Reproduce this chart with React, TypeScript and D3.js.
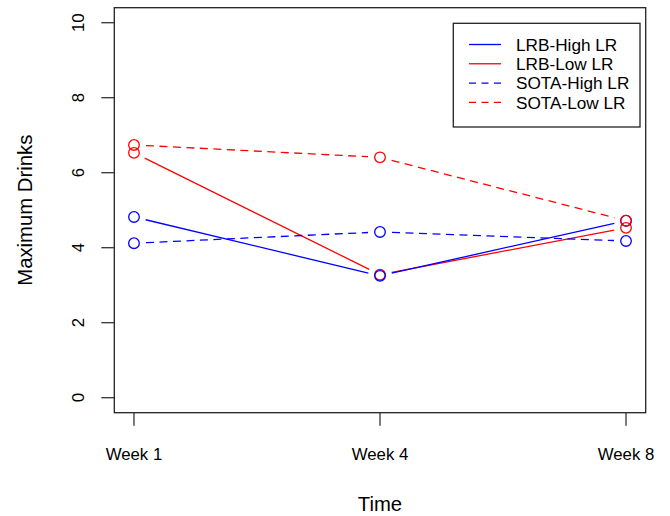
import React, { useEffect, useRef } from "react";
import * as d3 from "d3";

const categories = ["Week 1", "Week 4", "Week 8"];
const yTicks = [0, 2, 4, 6, 8, 10];

const lrbHigh = [4.82, 3.25, 4.72];
const lrbLow = [6.53, 3.28, 4.53];
const sotaHigh = [4.12, 4.42, 4.18];
const sotaLow = [6.74, 6.41, 4.72];

const seriesNames = ["LRB-High LR", "LRB-Low LR", "SOTA-High LR", "SOTA-Low LR"];
const seriesColors = ["#0000ff", "#ff0000", "#0000ff", "#ff0000"];
const seriesDashed = [false, false, true, true];

const FONT = "'Liberation Sans', Arial, Helvetica, sans-serif";

const App = () => {
  const ref = useRef<SVGSVGElement | null>(null);

  useEffect(() => {
    document.body.style.margin = "0";
    const svg = d3.select(ref.current);
    svg.selectAll("*").remove();

    const left = 114.3;
    const right = 645.7;
    const top = 7.7;
    const bottom = 412.7;

    // R style 4% padding on both axes
    const x = d3
      .scaleLinear()
      .domain([1 - 0.08, 3 + 0.08])
      .range([left, right]);
    const y = d3
      .scaleLinear()
      .domain([-0.4, 10.4])
      .range([bottom, top]);

    const values = [lrbHigh, lrbLow, sotaHigh, sotaLow];
    const dash = "8,5.5";
    const gap = 12;

    // box
    svg
      .append("rect")
      .attr("x", left)
      .attr("y", top)
      .attr("width", right - left)
      .attr("height", bottom - top)
      .attr("fill", "none")
      .attr("stroke", "#222")
      .attr("stroke-width", 1.3);

    // x axis ticks
    const xAxis = svg.append("g");
    categories.forEach((c, i) => {
      xAxis
        .append("line")
        .attr("x1", x(i + 1))
        .attr("x2", x(i + 1))
        .attr("y1", bottom)
        .attr("y2", bottom + 13)
        .attr("stroke", "#333")
        .attr("stroke-width", 1.3);
      xAxis
        .append("text")
        .attr("x", x(i + 1))
        .attr("y", 460)
        .attr("text-anchor", "middle")
        .style("font-family", FONT)
        .style("font-size", "16.8px")
        .text(c);
    });

    // y axis ticks
    const yAxis = svg.append("g");
    yTicks.forEach((t) => {
      yAxis
        .append("line")
        .attr("x1", left - 13)
        .attr("x2", left)
        .attr("y1", y(t))
        .attr("y2", y(t))
        .attr("stroke", "#333")
        .attr("stroke-width", 1.3);
      yAxis
        .append("text")
        .attr("transform", `translate(84,${y(t)}) rotate(-90)`)
        .attr("text-anchor", "middle")
        .style("font-family", FONT)
        .style("font-size", "16.8px")
        .text(t);
    });

    // axis titles
    svg
      .append("text")
      .attr("x", (left + right) / 2)
      .attr("y", 510.7)
      .attr("text-anchor", "middle")
      .style("font-family", FONT)
      .style("font-size", "20.3px")
      .text("Time");
    svg
      .append("text")
      .attr("transform", `translate(31.7,${(top + bottom) / 2}) rotate(-90)`)
      .attr("text-anchor", "middle")
      .style("font-family", FONT)
      .style("font-size", "20.3px")
      .text("Maximum Drinks");

    // series, drawn like R type="b"
    const order = [1, 0, 2, 3];
    order.forEach((s) => {
      const g = svg.append("g");
      const pts = values[s].map((v, i) => [x(i + 1), y(v)]);
      for (let i = 0; i < pts.length - 1; i++) {
        const [x1, y1] = pts[i];
        const [x2, y2] = pts[i + 1];
        const len = Math.hypot(x2 - x1, y2 - y1);
        const ux = (x2 - x1) / len;
        const uy = (y2 - y1) / len;
        g.append("line")
          .attr("x1", x1 + ux * gap)
          .attr("y1", y1 + uy * gap)
          .attr("x2", x2 - ux * gap)
          .attr("y2", y2 - uy * gap)
          .attr("stroke", seriesColors[s])
          .attr("stroke-width", 1.3)
          .attr("stroke-dasharray", seriesDashed[s] ? dash : null);
      }
      g.selectAll("circle")
        .data(pts)
        .enter()
        .append("circle")
        .attr("cx", (d) => d[0])
        .attr("cy", (d) => d[1])
        .attr("r", 5.3)
        .attr("fill", "none")
        .attr("stroke", seriesColors[s])
        .attr("stroke-width", 1.3);
    });

    // legend
    const legend = svg.append("g");
    legend
      .append("rect")
      .attr("x", 453.3)
      .attr("y", 23.3)
      .attr("width", 186.7)
      .attr("height", 103.7)
      .attr("fill", "white")
      .attr("stroke", "#222")
      .attr("stroke-width", 1.3);
    seriesNames.forEach((name, i) => {
      const cy = 44.5 + i * 19.27;
      legend
        .append("line")
        .attr("x1", 469)
        .attr("x2", 501)
        .attr("y1", cy)
        .attr("y2", cy)
        .attr("stroke", seriesColors[i])
        .attr("stroke-width", 1.3)
        .attr("stroke-dasharray", seriesDashed[i] ? "7,5.5" : null);
      legend
        .append("text")
        .attr("x", 516)
        .attr("y", cy + 6.2)
        .style("font-family", FONT)
        .style("font-size", "17.2px")
        .text(name);
    });
  }, []);

  return <svg ref={ref} width={670} height={516} style={{ display: "block" }} />;
};

export default App;
